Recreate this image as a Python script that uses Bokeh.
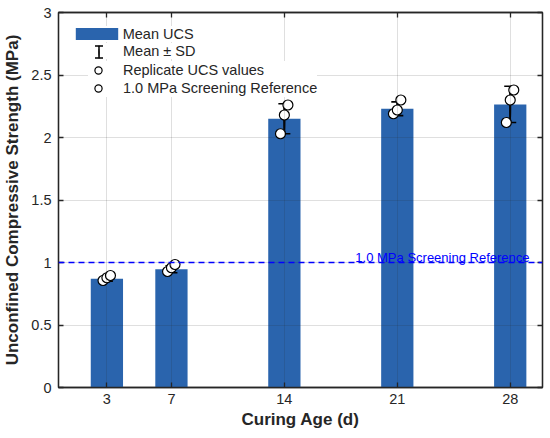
import numpy as np
from bokeh.plotting import figure
from bokeh.models import (ColumnDataSource, FixedTicker, LinearAxis, Range1d,
                          Legend, LegendItem, Span, Label)
from bokeh.embed import file_html
from bokeh.resources import INLINE

# ---- data ----
curing_age = [3, 7, 14, 21, 28]
mean_ucs = [0.87, 0.946, 2.15, 2.23, 2.265]
sd_ucs = [0.02, 0.028, 0.12, 0.055, 0.145]
rep_1 = [0.856, 0.928, 2.03, 2.19, 2.12]
rep_2 = [0.878, 0.958, 2.18, 2.22, 2.30]
rep_3 = [0.896, 0.984, 2.26, 2.30, 2.38]
rep_jitter = [-0.24, 0.0, 0.22]
reference_mpa = 1.0
reference_label = "1.0 MPa Screening Reference"
x_ticks = [3, 7, 14, 21, 28]
y_ticks = [0, 0.5, 1, 1.5, 2, 2.5, 3]
y_tick_labels = ["0", "0.5", "1", "1.5", "2", "2.5", "3"]

FONT = "Liberation Sans"
TXT = "#262626"
BAR = "#2a64ad"

bar_src = ColumnDataSource(dict(x=curing_age, top=mean_ucs))
lo = [m - s for m, s in zip(mean_ucs, sd_ucs)]
hi = [m + s for m, s in zip(mean_ucs, sd_ucs)]
span2 = [2 * s for s in sd_ucs]
err_src = ColumnDataSource(dict(x=curing_age, lo=lo, hi=hi, mean=mean_ucs, h=span2))
cap_src = ColumnDataSource(dict(x=curing_age + curing_age, y=hi + lo))
rx, ry = [], []
for reps, j in zip([rep_1, rep_2, rep_3], rep_jitter):
    for a, v in zip(curing_age, reps):
        rx.append(a + j)
        ry.append(v)
rep_src = ColumnDataSource(dict(x=rx, y=ry))

p = figure(width=550, height=438, x_range=Range1d(0, 30), y_range=Range1d(0, 3),
           output_backend="svg", toolbar_location=None,
           min_border_left=55, min_border_right=8, min_border_top=12, min_border_bottom=51)
p.background_fill_color = "white"
p.border_fill_color = "white"
p.outline_line_color = TXT
p.outline_line_width = 1.3

bars = p.vbar(x="x", top="top", width=2, bottom=0, source=bar_src,
              fill_color=BAR, line_color=None)
err = p.segment(x0="x", y0="lo", x1="x", y1="hi", source=err_src,
                line_color="black", line_width=1.6)
# thin ellipse along each error stem: gives a vertical stem in the legend
stem = p.ellipse(x="x", y="mean", width=0.4, height="h", width_units="screen",
                 source=err_src, fill_color=None, line_color="black", line_width=1.6)
caps = p.scatter(x="x", y="y", source=cap_src, marker="dash", size=12,
                 line_color="black", line_width=1.6)
# hidden box whose dashed outline gives the two caps of the legend icon
cap_box = p.rect(x="x", y="mean", width=12, height="h", width_units="screen",
                 source=err_src, fill_color=None, line_color="black", line_width=1.6,
                 line_dash="8 16", line_dash_offset=22)
cap_box.visible = False
circles = p.scatter(x="x", y="y", source=rep_src, marker="circle", size=10,
                    fill_color="white", line_color="black", line_width=1.2)

span = Span(location=reference_mpa, dimension="width", line_color="#0000ff",
            line_dash="6 4", line_width=1.5)
p.add_layout(span)
lab = Label(x=18.4, y=reference_mpa, text=reference_label, text_color="#0000ff",
            text_font=FONT, text_font_size="13px", text_baseline="bottom",
            y_offset=-2)
p.add_layout(lab)

# axes
def style_axis(ax):
    ax.axis_line_color = TXT
    ax.axis_line_width = 1.3
    ax.major_tick_line_color = TXT
    ax.major_tick_line_width = 1.3
    ax.major_tick_in = 5
    ax.major_tick_out = 0
    ax.minor_tick_line_color = None
    ax.major_label_text_font = FONT
    ax.major_label_text_color = TXT
    ax.major_label_text_font_size = "14.5px"
    ax.axis_label_text_font = FONT
    ax.axis_label_text_font_style = "bold"
    ax.axis_label_text_font_size = "17px"
    ax.axis_label_text_color = TXT

xt = FixedTicker(ticks=x_ticks)
yt = FixedTicker(ticks=y_ticks)
p.xaxis.ticker = xt
p.yaxis.ticker = yt
p.yaxis.major_label_overrides = {t: s for t, s in zip(y_ticks, y_tick_labels)}
style_axis(p.xaxis[0])
style_axis(p.yaxis[0])
p.xaxis.axis_label = "Curing Age (d)"
p.yaxis.axis_label = "Unconfined Compressive Strength (MPa)"
p.xaxis.major_label_standoff = 6
p.xaxis.axis_label_standoff = 3
p.yaxis.major_label_standoff = 7
p.yaxis.axis_label_standoff = 6

top_ax = LinearAxis(ticker=FixedTicker(ticks=x_ticks))
right_ax = LinearAxis(ticker=FixedTicker(ticks=y_ticks))
for ax in (top_ax, right_ax):
    style_axis(ax)
    ax.major_label_text_font_size = "1px"
    ax.major_label_text_color = None
    ax.major_label_standoff = 0
p.add_layout(top_ax, "above")
p.add_layout(right_ax, "right")

for g in (p.xgrid[0], p.ygrid[0]):
    g.grid_line_color = TXT
    g.grid_line_alpha = 0.15
    g.grid_line_width = 1
    g.level = "glyph"
p.xgrid.ticker = xt
p.ygrid.ticker = yt

# legends
common = dict(padding=0, margin=0, border_line_color=None,
              background_fill_color="white", background_fill_alpha=1,
              label_text_font=FONT, label_text_font_size="14.5px",
              label_text_color=TXT, spacing=0)
leg1 = Legend(items=[LegendItem(label="Mean UCS", renderers=[bars])],
              location=(11.7, 345.5), glyph_width=53, glyph_height=15,
              label_height=15, label_standoff=0, **common)
leg_err = Legend(items=[LegendItem(label="Mean \u00b1 SD", renderers=[stem, cap_box], index=4)],
                 location=(33, 327.8), glyph_width=15, glyph_height=15,
                 label_height=15, label_standoff=17, **common)
leg3 = Legend(items=[LegendItem(label="Replicate UCS values", renderers=[circles]),
                     LegendItem(label=reference_label, renderers=[circles])],
              location=(30, 290), glyph_width=20, glyph_height=18,
              label_height=18, label_standoff=15, **common)
p.add_layout(leg1)
p.add_layout(leg_err)
p.add_layout(leg3)

open("out.html", "w").write(file_html(p, INLINE))
